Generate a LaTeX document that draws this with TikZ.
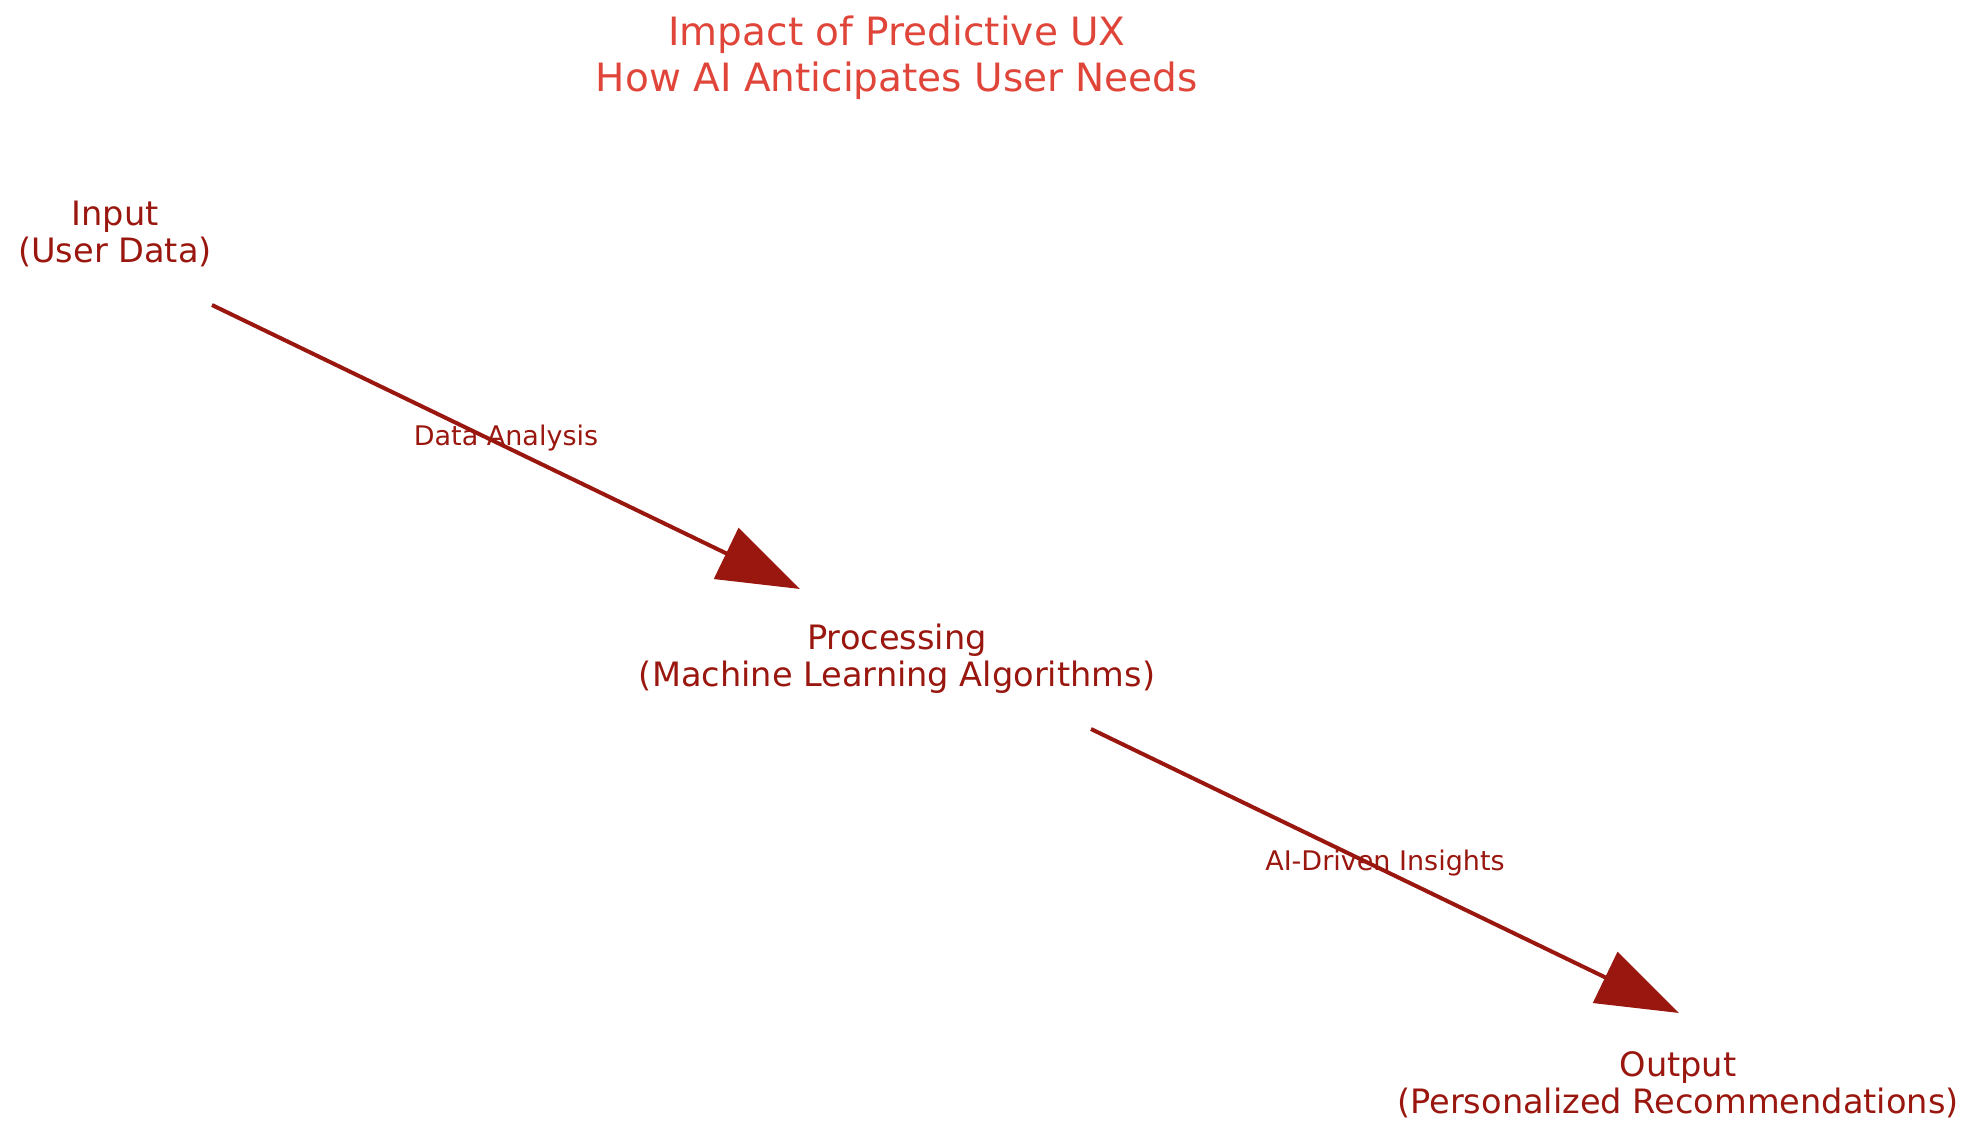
\documentclass[tikz,border=0pt]{standalone}
\usepackage{fontspec}
\setmainfont{DejaVu Sans}
\usetikzlibrary{arrows.meta,calc}
\definecolor{titlered}{HTML}{E0453A}
\definecolor{darkred}{HTML}{99170F}
\begin{document}
\begin{tikzpicture}[x=0.5pt,y=-0.5pt,
  nodetext/.style={text=darkred,align=center,font=\fontsize{16.8}{18.5}\selectfont,inner sep=0pt},
  edgelabel/.style={text=darkred,font=\fontsize{13.5}{15}\selectfont,inner sep=0pt},
  edge/.style={draw=darkred,line width=2pt,-{Triangle[length=41pt,width=28pt,fill=darkred]}}]
\useasboundingbox (0,0) rectangle (1978,1140);
\node[text=titlered,align=center,font=\fontsize{19.5}{23}\selectfont,inner sep=0pt] (title) at (897,58) {Impact of Predictive UX\\How AI Anticipates User Needs};
\node[nodetext] (in) at (115,234) {Input\\(User Data)};
\node[nodetext] (proc) at (897,659) {Processing\\(Machine Learning Algorithms)};
\node[nodetext] (out) at (1678,1085) {Output\\(Personalized Recommendations)};
\draw[edge] ($(in)+(97,71)$) -- ($(proc)+(-97,-70)$);
\draw[edge] ($(proc)+(194,70)$) -- ($(out)+(1,-72)$);
\node[edgelabel] (l1) at (506,438) {Data Analysis};
\node[edgelabel] (l2) at (1385,863) {AI-Driven Insights};
\end{tikzpicture}
\end{document}
